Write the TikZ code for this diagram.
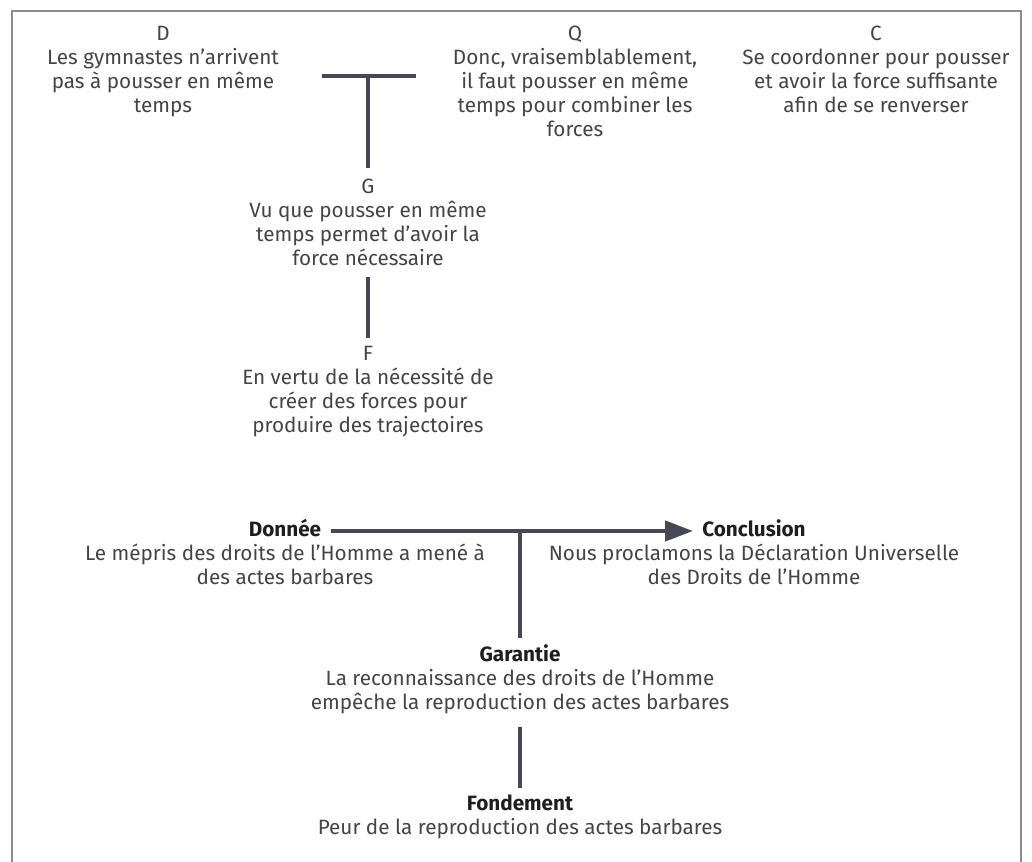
\documentclass[tikz,border=0pt]{standalone}
\usepackage{fontspec}
\setmainfont{Fira Sans}
\usetikzlibrary{arrows.meta}
\definecolor{linec}{HTML}{474758}
\definecolor{txtc}{HTML}{444444}
\definecolor{ttlc}{HTML}{1E1E1E}
\definecolor{framec}{HTML}{8C8C8C}
\newlength\refw
\newcommand\ttlx[1]{{\bfseries\color{ttlc}#1}}
\begin{document}
\settowidth\refw{\fontsize{10pt}{12pt}\selectfont Le mépris des droits de l’Homme a mené à}
\pgfmathsetmacro\fs{10*400/\refw}
\begin{tikzpicture}[x=1pt,y=-1pt]
\tikzset{
  blk/.style={align=center, anchor=base, inner sep=0pt, text=txtc,
    font=\fontsize{\fs pt}{24pt}\selectfont},
  conn/.style={draw=linec, line width=4.5pt}
}
\useasboundingbox (0,0) rectangle (1032,861);
\begin{scope}
\clip (0,0) rectangle (1032,861);
\draw[framec, line width=1.3pt] (12,11) rectangle (1021,930);
\end{scope}

% Top diagram (anchor = baseline of the last line)
\node[blk] (D) at (163,113) {D\\Les gymnastes n’arrivent\\pas à pousser en même\\temps};
\node[blk] (Q) at (575,137) {Q\\Donc, vraisemblablement,\\il faut pousser en même\\temps pour combiner les\\forces};
\node[blk] (C) at (876,113) {C\\Se coordonner pour pousser\\et avoir la force suffisante\\afin de se renverser};
\node[blk] (G) at (368,265) {G\\Vu que pousser en même\\temps permet d’avoir la\\force nécessaire};
\node[blk] (F) at (368,432) {F\\En vertu de la nécessité de\\créer des forces pour\\produire des trajectoires};

\coordinate (tbl) at (322,76);
\coordinate (tbr) at (416,76);
\coordinate (tbm) at (368,76);
\coordinate (gtop) at (368,168);
\coordinate (gbot) at (368,277);
\coordinate (ftop) at (368,338);
\draw[conn] (tbl) -- (tbr);
\draw[conn] (tbm) -- (gtop);
\draw[conn] (gbot) -- (ftop);

% Bottom diagram
\node[blk] (don) at (285,584) {\ttlx{Donnée}\\Le mépris des droits de l’Homme a mené à\\des actes barbares};
\node[blk] (con) at (754,584) {\ttlx{Conclusion}\\Nous proclamons la Déclaration Universelle\\des Droits de l’Homme};
\node[blk] (gar) at (520,709) {\ttlx{Garantie}\\La reconnaissance des droits de l’Homme\\empêche la reproduction des actes barbares};
\node[blk] (fon) at (520,834) {\ttlx{Fondement}\\Peur de la reproduction des actes barbares};

\coordinate (ast) at (331,531);
\coordinate (aend) at (693,531);
\coordinate (jn) at (520,531);
\coordinate (gartop) at (520,638);
\coordinate (garbot) at (520,727);
\coordinate (fontop) at (520,788);
\draw[conn, -{Triangle[length=28pt,width=20pt]}] (ast) -- (aend);
\draw[conn] (jn) -- (gartop);
\draw[conn] (garbot) -- (fontop);
\end{tikzpicture}
\end{document}
